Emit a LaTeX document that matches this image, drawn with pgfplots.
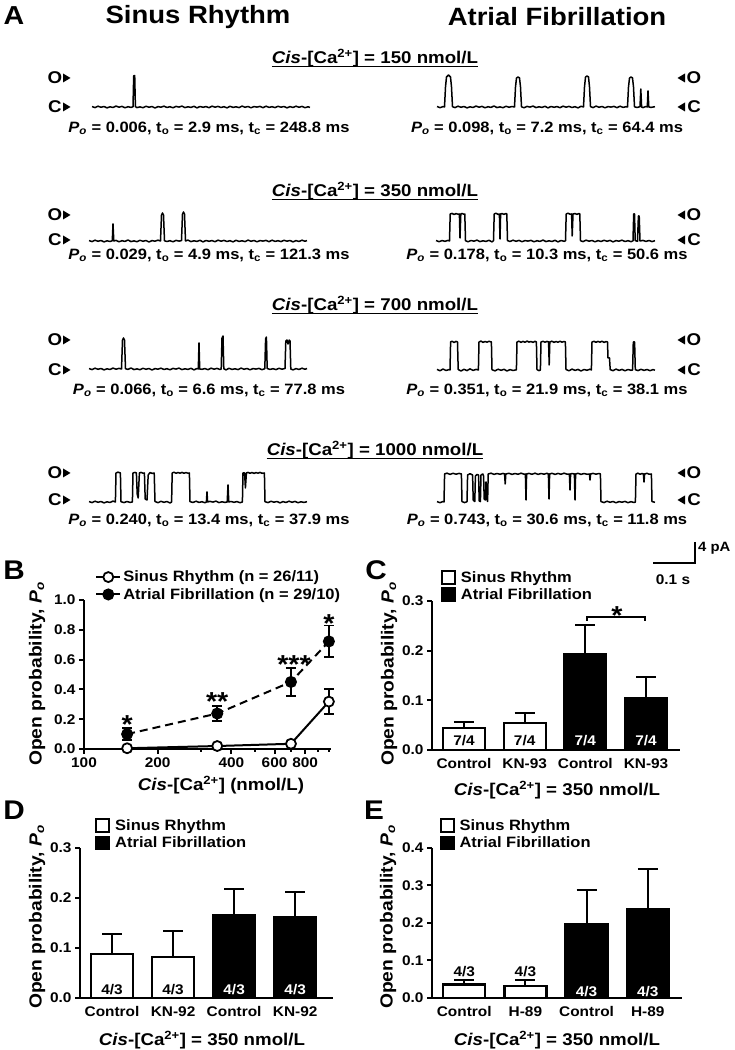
\documentclass[border=0pt]{standalone}
\usepackage{pgfplots}
\pgfplotsset{compat=1.18}
\usepackage{fontspec}
\setmainfont{Liberation Sans}[FakeStretch=1.1]
\newcommand\fs[1]{\fontsize{#1pt}{#1pt}\selectfont}
\newcommand\Po{\textit{P}\textsubscript{\textit{o}}}
\newcommand\tsub[1]{t\textsubscript{#1}}
\newcommand\cis{\textit{Cis}-[Ca\textsuperscript{2+}]}
\pgfplotsset{
  every axis/.append style={
    scale only axis, clip=false, anchor=south west,
    axis lines*=left,
    axis line style={line width=2.2pt, -},
    tick style={line width=2pt, black},
    tick align=outside,
    major tick length=5pt, minor tick length=3pt,
    ticklabel style={font=\fs{14}\bfseries},
    /pgf/number format/assume math mode=true,
  },
  trace/.style={hide axis, height=50pt, ymin=-10, ymax=40},
  tline/.style={black, line width=1.5pt, line join=round},
  yfix/.style={yticklabel style={/pgf/number format/.cd, fixed, fixed zerofill, precision=1}},
  barleg/.style={legend image code/.code={\draw[##1,/tikz/.cd,yshift=-6.5pt,line width=1.8pt] (0pt,0pt) rectangle (13pt,13pt);}},
  barerr/.style={error bars/.cd, y dir=plus, y explicit, error bar style={line width=2pt, black, solid}, error mark options={rotate=90, mark size=10pt, line width=2pt, black}},
  barlegstyle/.style={legend cell align=left, legend style={draw=none, fill=none, font=\fs{15}\bfseries, anchor=north west, row sep=1pt, inner sep=0pt, nodes={inner sep=2pt}, /tikz/every odd column/.append style={column sep=3pt}}},
}
\tikzset{star/.style={anchor=base, yshift=-15pt, font=\fs{26}\bfseries, inner sep=0pt},
  lab/.style={font=\fs{14}\bfseries, inner sep=0pt},
  ylab/.style={font=\fs{17.5}\bfseries, rotate=90}}
\newcommand\lmk[2]{\node[font=\fs{17}\bfseries, inner sep=0pt] at (55,#1) {#2};
  \fill (63,{#1+4.5}) -- (70.5,#1) -- (63,{#1-4.5}) -- cycle;}
\newcommand\rmk[2]{\node[font=\fs{17}\bfseries, inner sep=0pt] at (694,#1) {#2};
  \fill (685,{#1+4.5}) -- (677.5,#1) -- (685,{#1-4.5}) -- cycle;}
\begin{document}
\begin{tikzpicture}[x=1pt,y=1pt]
\path[use as bounding box] (0,0) rectangle (735,1050);
% ---------- Panel A titles
\node[font=\fs{26}\bfseries] at (14,1034) {A};
\node[font=\fs{25}\bfseries] at (198,1033) {Sinus Rhythm};
\node[font=\fs{25}\bfseries] at (557,1033) {Atrial Fibrillation};
% headers
\node[inner sep=0pt, anchor=base, font=\fs{17}\bfseries] (h1) at (375,986) {\cis{} = 150 nmol/L};
\node[inner sep=0pt, anchor=base, font=\fs{17}\bfseries] (h2) at (375,853) {\cis{} = 350 nmol/L};
\node[inner sep=0pt, anchor=base, font=\fs{17}\bfseries] (h3) at (375,739) {\cis{} = 700 nmol/L};
\node[inner sep=0pt, anchor=base, font=\fs{17}\bfseries] (h4) at (375,594) {\cis{} = 1000 nmol/L};
\foreach \h in {h1,h2,h3,h4}{\draw[line width=1.5pt] ([yshift=-2.5pt]\h.base west) -- ([yshift=-2.5pt]\h.base east);}
% markers
\lmk{972}{O}\lmk{943}{C}\rmk{972}{O}\rmk{943}{C}
\lmk{835}{O}\lmk{810}{C}\rmk{835}{O}\rmk{810}{C}
\lmk{710}{O}\lmk{680}{C}\rmk{710}{O}\rmk{680}{C}
\lmk{577}{O}\lmk{550}{C}\rmk{577}{O}\rmk{550}{C}
% Po texts
\node[font=\fs{15}\bfseries] at (209,922) {\Po{} = 0.006, \tsub{o} = 2.9 ms, \tsub{c} = 248.8 ms};
\node[font=\fs{15}\bfseries] at (547,922) {\Po{} = 0.098, \tsub{o} = 7.2 ms, \tsub{c} = 64.4 ms};
\node[font=\fs{15}\bfseries] at (209,795) {\Po{} = 0.029, \tsub{o} = 4.9 ms, \tsub{c} = 121.3 ms};
\node[font=\fs{15}\bfseries] at (547,795) {\Po{} = 0.178, \tsub{o} = 10.3 ms, \tsub{c} = 50.6 ms};
\node[font=\fs{15}\bfseries] at (209,660) {\Po{} = 0.066, \tsub{o} = 6.6 ms, \tsub{c} = 77.8 ms};
\node[font=\fs{15}\bfseries] at (547,660) {\Po{} = 0.351, \tsub{o} = 21.9 ms, \tsub{c} = 38.1 ms};
\node[font=\fs{15}\bfseries] at (209,530) {\Po{} = 0.240, \tsub{o} = 13.4 ms, \tsub{c} = 37.9 ms};
\node[font=\fs{15}\bfseries] at (547,530) {\Po{} = 0.743, \tsub{o} = 30.6 ms, \tsub{c} = 11.8 ms};
% ---------- traces row 1
\begin{axis}[trace, at={(88pt,933pt)}, width=222pt, xmin=88, xmax=310]
\addplot[tline] coordinates {(92,0.4)(95,-0.6)(98,0.8)(101,-0.3)(104,0.5)(107,-0.9)(110,0.2)(113,-0.5)(116,0.9)(119,-0.2)(122,0.6)(125,-0.8)(128,0.3)(131,-0.4)(133,0.2)(133.7,31)(134.7,31.5)(135.4,0.3)(137,-0.6)(140,0.1)(143,-0.7)(146,0.7)(149,-0.3)(152,0.5)(155,-1.0)(158,0.4)(161,-0.2)(164,0.8)(167,-0.5)(170,0.3)(173,-0.8)(176,0.6)(179,-0.1)(182,0.9)(185,-0.6)(188,0.2)(191,-0.4)(194,0.7)(197,-0.9)(200,0.5)(203,-0.3)(206,0.4)(209,-0.7)(212,0.8)(215,-0.2)(218,0.6)(221,-0.5)(224,0.3)(227,-0.9)(230,0.7)(233,-0.4)(236,0.2)(239,-0.6)(242,0.9)(245,-0.3)(248,0.5)(251,-0.8)(254,0.4)(257,-0.1)(260,0.6)(263,-0.7)(266,0.8)(269,-0.4)(272,0.3)(275,-0.6)(278,0.7)(281,-0.2)(284,0.5)(287,-0.9)(290,0.4)(293,-0.5)(296,0.8)(299,-0.3)(302,0.6)(305,-0.7)(308,0.2)(310,-0.4)};
\end{axis}
\begin{axis}[trace, at={(436pt,933pt)}, width=220pt, xmin=436, xmax=656]
\addplot[tline] coordinates {(437,0.5)(440,-0.7)(443,0.4)(444.5,0)(445.5,20)(446.5,30)(448.5,32)(450.5,30)(451.5,20)(452.5,0.3)(455,-0.6)(458,0.8)(461,-0.3)(464,0.5)(467,-0.9)(470,0.2)(473,-0.5)(476,0.9)(479,-0.2)(482,0.6)(485,-0.8)(488,0.3)(491,-0.4)(494,1.0)(497,-0.6)(500,0.1)(503,-0.7)(506,0.7)(509,-0.3)(512,0.5)(514.5,0)(515.5,20)(516.5,29)(518,30)(519.5,29)(520.5,20)(521.5,0.2)(524,-0.8)(527,0.6)(530,-0.1)(533,0.9)(536,-0.6)(539,0.2)(542,-0.4)(545,0.7)(548,-0.9)(551,0.5)(554,-0.3)(557,0.4)(560,-0.7)(563,0.8)(566,-0.2)(569,0.6)(572,-0.5)(575,0.3)(578,-0.9)(581,0.7)(583.5,0)(584.5,20)(585.5,30)(587,31)(588.5,30)(589.5,20)(590.5,0.4)(593,-0.6)(596,0.9)(599,-0.3)(602,0.5)(605,-0.8)(608,0.4)(611,-0.1)(614,0.6)(617,-0.7)(620,0.8)(623,-0.4)(626,0.3)(627.5,0)(628.5,20)(629.5,29)(631,30)(632.5,29)(633.5,20)(634.5,0.2)(637,-0.5)(640,0.3)(640.8,18)(641.6,0)(643,-0.6)(646,0.5)(647.3,0)(648,16)(648.8,0)(651,-0.4)(655,0.3)};
\end{axis}
% ---------- traces row 2
\begin{axis}[trace, at={(88pt,799pt)}, width=222pt, xmin=88, xmax=310]
\addplot[tline] coordinates {(89,0.4)(92,-0.6)(95,0.8)(98,-0.3)(101,0.5)(104,-0.9)(107,0.2)(110,-0.5)(112.3,0.3)(113,17)(113.8,0)(116,0.6)(119,-0.8)(122,0.3)(125,-0.4)(128,1.0)(131,-0.6)(134,0.1)(137,-0.7)(140,0.7)(143,-0.3)(146,0.5)(149,-1.0)(152,0.4)(155,-0.2)(158,0.8)(160.5,0)(161.5,26)(162.5,28)(163.5,26)(164.5,0.2)(167,-0.5)(170,0.3)(173,-0.8)(176,0.6)(179,-0.1)(181.5,0.4)(182.5,27)(183.5,29)(184.5,27)(185.5,0)(188,0.9)(191,-0.6)(194,0.2)(197,-0.4)(200,0.7)(203,-0.9)(206,0.5)(209,-0.3)(212,0.4)(215,-0.7)(218,0.8)(221,-0.2)(224,0.6)(227,-0.5)(230,0.3)(233,-0.9)(236,0.7)(239,-0.4)(242,0.2)(245,-0.6)(248,0.9)(251,-0.3)(254,0.5)(257,-0.8)(260,0.4)(263,-0.1)(266,0.6)(269,-0.7)(272,0.8)(275,-0.4)(278,0.3)(281,-0.6)(284,0.7)(287,-0.2)(290,0.5)(293,-0.9)(296,0.4)(299,-0.5)(302,0.8)(305,-0.3)(307,0.4)};
\end{axis}
\begin{axis}[trace, at={(436pt,799pt)}, width=220pt, xmin=436, xmax=656]
\addplot[tline] coordinates {(436,0.5)(439,-0.7)(442,0.4)(445,-0.3)(448,0.6)(449.5,0)(450.2,27)(452,27.6)(454,26.5)(456,27.4)(458,26.8)(459.4,27)(460,3)(460.8,27)(462,27.5)(464,26.7)(464.8,27)(465.5,0.3)(468,-0.8)(471,0.5)(474,-0.2)(477,0.9)(480,-0.6)(483,0.2)(486,-0.4)(489,0.7)(492,-0.9)(493.5,0.3)(494.2,27)(496,27.8)(498,26.6)(499.4,27)(500,2)(500.6,27)(502,27.4)(504,26.6)(506,27.5)(506.8,27)(507.5,0.4)(510,-0.5)(513,0.8)(516,-0.3)(519,0.6)(522,-0.7)(525,0.4)(528,-0.1)(531,0.6)(534,-0.8)(537,0.3)(540,-0.4)(543,0.9)(546,-0.6)(549,0.2)(552,-0.5)(555,0.7)(558,-0.9)(561,0.5)(564,-0.3)(565.5,0.2)(566.2,27)(568,27.8)(570,26.8)(571.6,27)(572.2,5)(573,27)(575,27.4)(577,26.6)(579,27.5)(579.8,27)(580.5,0.3)(583,-0.6)(586,0.8)(589,-0.2)(592,0.5)(595,-0.8)(598,0.4)(601,-0.5)(604,0.7)(607,-0.3)(610,0.6)(613,-0.9)(616,0.4)(619,-0.2)(622,0.8)(625,-0.5)(628,0.3)(631,-0.7)(633,0.2)(633.7,27)(634.5,27)(635.2,0.4)(637.5,-0.3)(638.4,25)(639.2,25)(640,0)(643,0.6)(646,-0.4)(649,0.5)(652,-0.6)(655,0.3)};
\end{axis}
% ---------- traces row 3
\begin{axis}[trace, at={(88pt,671pt)}, width=222pt, xmin=88, xmax=310]
\addplot[tline] coordinates {(89,0.4)(92,-0.6)(95,0.8)(98,-0.3)(101,0.5)(104,-0.9)(107,0.2)(110,-0.5)(113,0.9)(116,-0.2)(119,0.6)(121.5,0)(122.5,29)(123.5,31)(124.5,29)(125.5,0.3)(128,-0.4)(131,1.0)(134,-0.6)(137,0.1)(140,-0.7)(143,0.7)(146,-0.3)(149,0.5)(152,-1.0)(155,0.4)(158,-0.2)(161,0.8)(164,-0.5)(167,0.3)(170,-0.8)(173,0.6)(176,-0.1)(179,0.9)(182,-0.6)(185,0.2)(188,-0.4)(191,0.7)(194,-0.9)(197,0.5)(198.3,0)(199,26)(199.7,0)(202,-0.3)(205,0.4)(208,-0.7)(211,0.8)(214,-0.2)(217,0.6)(220,-0.5)(221.2,0)(222,31)(223,33)(223.8,0.3)(226,-0.9)(229,0.7)(232,-0.4)(235,0.2)(238,-0.6)(241,0.9)(244,-0.3)(247,0.5)(250,-0.8)(253,0.4)(256,-0.1)(259,0.6)(262,-0.7)(264.8,0.3)(265.6,30)(266.4,32)(267.2,0.5)(270,-0.4)(273,0.3)(276,-0.6)(279,0.7)(282,-0.2)(285,0.5)(285.8,28)(287,29)(288,25)(289.2,29)(290,28)(290.8,0)(293,-0.9)(296,0.4)(299,-0.5)(302,0.8)(305,-0.3)(307,0.5)};
\end{axis}
\begin{axis}[trace, at={(436pt,670pt)}, width=220pt, xmin=436, xmax=656]
\addplot[tline] coordinates {(437,0.6)(440,-0.8)(443,1.0)(446,-0.5)(449,0.4)(450,0)(450.6,28)(452,28.8)(454,27.5)(456,28.6)(457.5,28)(458.2,0.5)(461,-1.0)(464,0.7)(467,-0.6)(470,1.1)(473,-0.4)(476,0.6)(478.4,0)(479,28)(481,28.9)(483,27.6)(485,28.5)(487,27.8)(489,28.7)(491.4,28)(492,0.3)(495,-0.9)(498,0.8)(501,-0.3)(504,0.7)(507,-1.0)(510,0.4)(513,-0.5)(516.4,0.2)(517,28)(519,28.8)(521,27.6)(523,28.6)(525,27.7)(527,28.9)(529,27.9)(531,28.5)(533,27.6)(535,28.7)(536.4,28)(537,0.4)(539,-0.6)(540.4,0)(541,28)(543,28.7)(545,27.8)(547,28.6)(548.6,28)(549.2,5)(549.8,28)(552,28.8)(554,27.6)(556,28.5)(558,27.7)(560,28.8)(562,27.8)(564,28.5)(565.4,28)(566,0.5)(569,-0.8)(572,0.9)(575,-0.4)(578,0.6)(581,-1.0)(584,0.5)(587,-0.3)(590,0.8)(591.4,0)(592,28)(594,28.7)(596,27.7)(598,28.6)(600,27.8)(602,28.8)(604,27.6)(606,28.4)(607.5,28)(608,12)(609.5,12)(610.2,0.4)(613,-0.7)(616,0.9)(619,-0.4)(622,0.6)(625,-0.8)(628,0.5)(631,-0.3)(632.6,0)(633.3,28)(634.6,28)(635.3,0.3)(638,-0.6)(641,0.7)(644,-0.4)(647,0.5)(650,-0.7)(653,0.4)(655,-0.2)};
\end{axis}
% ---------- traces row 4
\begin{axis}[trace, at={(88pt,538pt)}, width=222pt, xmin=88, xmax=310]
\addplot[tline] coordinates {(89,0.4)(92,-0.6)(95,0.8)(98,-0.3)(101,0.5)(104,-0.9)(107,0.2)(110,-0.5)(113,0.9)(115.4,0)(116,29)(118,29.8)(120.4,29)(121,0.3)(124,-0.6)(127,0.5)(130,-0.4)(132.4,0)(133,29)(135,29.6)(136.4,29)(137.2,8)(138.2,4)(139.4,29)(141,29.6)(143,28.8)(144.4,29)(145.2,3)(147,2)(148.2,27)(150,29.5)(152,28.6)(154.2,29)(155,0.5)(158,-0.7)(161,0.7)(164,-0.3)(167,0.5)(170,-1.0)(171.6,0)(172.2,29)(174,29.8)(176,28.7)(178,29.5)(180,28.8)(182,29.6)(184,28.7)(186,29.4)(188,28.8)(189.4,29)(190,0.4)(193,-0.5)(196,0.8)(199,-0.4)(202,0.3)(205,-0.8)(206.4,0)(207,10)(207.6,0)(210,0.6)(213,-0.1)(216,0.9)(219,-0.6)(222,0.2)(225,-0.4)(227.2,0)(228,17)(228.8,0)(231,0.5)(234,-0.3)(237,0.4)(240,-0.7)(242.4,0)(243,29)(244.6,29)(245.4,14)(246.4,29)(248,29.6)(250,28.7)(252,29.5)(254,28.6)(256,29.4)(258,28.8)(260,29.6)(262,28.7)(264.4,29)(265,0.3)(268,-0.6)(271,0.7)(274,-0.2)(277,0.5)(280,-0.9)(283,0.4)(286,-0.5)(289,0.8)(292,-0.3)(295,0.6)(298,-0.7)(301,0.2)(304,-0.4)(307,0.3)};
\end{axis}
\begin{axis}[trace, at={(436pt,538pt)}, width=220pt, xmin=436, xmax=656]
\addplot[tline] coordinates {(437,0.4)(440,-0.7)(443,0.5)(444,0)(444.6,28)(447,28.8)(450,27.6)(453,28.7)(456,27.8)(459,28.6)(461.4,28)(462,0.4)(464.5,-0.6)(467,0.3)(467.6,27)(470,28.3)(472.6,27)(473.2,2)(474.8,0.5)(475.4,26)(477,27.5)(478.6,27)(479.2,1)(480.4,0.4)(481,27)(482.8,28)(483.6,26)(484.2,3)(485.4,2)(486,20)(486.8,4)(487.6,0.5)(488.2,28)(491,28.8)(494,27.6)(497,28.5)(500,27.7)(503,28.6)(504.6,28)(505.2,18)(505.8,28)(509,28.7)(512,27.6)(515,28.5)(518,27.7)(521,28.8)(524,27.8)(525.4,28)(526,2)(526.6,28)(529,28.6)(532,27.7)(535,28.8)(538,27.6)(541,28.5)(544,27.8)(547,28.7)(548.4,28)(549,3)(549.6,28)(552,28.7)(555,27.6)(558,28.6)(561,27.7)(564,28.8)(567,27.8)(569.4,28)(570,12)(570.6,28)(572,28.5)(574.4,28)(575,2)(575.6,28)(578,28.7)(581,27.6)(584,28.5)(587,27.7)(589.4,28)(590,22)(590.6,28)(593,28.6)(596,27.8)(599,28.5)(600.4,28)(601,0.4)(604,-0.6)(607,0.8)(610,-0.3)(613,0.5)(616,-0.8)(619,0.4)(622,-0.2)(625,0.6)(628,-0.7)(631,0.3)(634,-0.5)(635.4,0)(636,28)(638,28.8)(640,27.7)(642,28.5)(643.4,28)(644,20)(644.6,28)(647,28.7)(649,27.8)(651.4,28)(652,0.4)(655,-0.3)};
\end{axis}
% scale bar
\draw[line width=2.5pt] (695,508) -- (695,487) -- (653,487);
\node[font=\fs{13.5}\bfseries, anchor=west, inner sep=0pt] at (698,502) {4 pA};
\node[font=\fs{14}\bfseries, inner sep=0pt] at (673,470) {0.1 s};
% ---------- panel letters
\node[font=\fs{27}\bfseries] at (14,480) {B};
\node[font=\fs{27}\bfseries] at (376,480) {C};
\node[font=\fs{27}\bfseries] at (14,240) {D};
\node[font=\fs{27}\bfseries] at (374,240) {E};
% y labels
\node[ylab] at (37,376) {Open probability, \Po};
\node[ylab] at (389,376) {Open probability, \Po};
\node[ylab] at (37,133) {Open probability, \Po};
\node[ylab] at (388,133) {Open probability, \Po};
% x titles
\node[font=\fs{17}\bfseries] at (221,265) {\cis{} (nmol/L)};
\node[font=\fs{17}\bfseries] at (557,260) {\cis{} = 350 nmol/L};
\node[font=\fs{17}\bfseries] at (202,10) {\cis{} = 350 nmol/L};
\node[font=\fs{17}\bfseries] at (557,10) {\cis{} = 350 nmol/L};
% ---------- Panel B
\begin{axis}[at={(84pt,301pt)}, width=247pt, height=149pt, xmode=log, xmin=100, xmax=1020, ymin=0, ymax=1,
  xtick={100,200,400,600,800}, xticklabels={100,200,400,600,800}, minor xtick={300,500,700,900,1000},
  ytick={0,0.2,0.4,0.6,0.8,1}, yfix,
  legend cell align=left,
  legend style={draw=none, fill=none, font=\fs{15}\bfseries, at={(0.045,1.21)}, anchor=north west, row sep=1pt, inner sep=0pt, nodes={inner sep=2pt}},
  legend image code/.code={\draw[mark repeat=2, mark phase=2, #1, solid] plot coordinates {(0pt,0pt) (12pt,0pt) (24pt,0pt)};}]
\addplot[black, line width=2pt, mark=*, mark size=5pt, mark options={fill=white, draw=black, line width=1.8pt, solid},
  error bars/.cd, y dir=both, y explicit, error bar style={line width=1.8pt, solid}, error mark options={rotate=90, mark size=5pt, line width=1.8pt}]
  coordinates {(150,0.005) +- (0,0.003) (350,0.02) +- (0,0.005) (700,0.035) +- (0,0.006) (1000,0.318) +- (0,0.085)};
\addlegendentry{Sinus Rhythm (n = 26/11)}
\addplot[black, line width=2pt, dash pattern=on 8pt off 5pt, mark=*, mark size=5pt, mark options={fill=black, solid},
  error bars/.cd, y dir=both, y explicit, error bar style={line width=1.8pt, solid}, error mark options={rotate=90, mark size=5pt, line width=1.8pt, solid}]
  coordinates {(150,0.10) +- (0,0.04) (350,0.238) +- (0,0.052) (700,0.45) +- (0,0.093) (1000,0.722) +- (0,0.107)};
\addlegendentry{Atrial Fibrillation (n = 29/10)}
\node[star] at (axis cs:150,0.208) {*};
\node[star] at (axis cs:350,0.36) {**};
\node[star] at (axis cs:720,0.61) {***};
\node[star] at (axis cs:1000,0.885) {*};
\end{axis}
% ---------- Panel C
\begin{axis}[at={(432pt,300pt)}, width=248pt, height=149pt, xmin=0.473, xmax=4.56, ymin=0, ymax=0.3,
  ytick={0,0.1,0.2,0.3}, yfix, xtick={1,2,3,4}, xticklabels={Control,KN-93,Control,KN-93}, xtick style={draw=none},
  barlegstyle, legend style={at={(0.036,1.215)}}]
\addplot[ybar, bar width=42pt, bar shift=0pt, fill=white, draw=black, line width=2.2pt, barleg, barerr]
  coordinates {(1,0.044) += (0,0.013) (2,0.055) += (0,0.019)};
\addlegendentry{Sinus Rhythm}
\addplot[ybar, bar width=42pt, bar shift=0pt, fill=black, draw=black, line width=2.2pt, barleg, barerr]
  coordinates {(3,0.194) += (0,0.057) (4,0.105) += (0,0.042)};
\addlegendentry{Atrial Fibrillation}
\node[lab] at (axis cs:1,0.018) {7/4};
\node[lab] at (axis cs:2,0.018) {7/4};
\node[lab, text=white] at (axis cs:3,0.018) {7/4};
\node[lab, text=white] at (axis cs:4,0.018) {7/4};
\draw[line width=2pt] (axis cs:3.03,0.26) -- (axis cs:3.03,0.268) -- (axis cs:3.98,0.268) -- (axis cs:3.98,0.26);
\node[star] at (axis cs:3.52,0.283) {*};
\end{axis}
% ---------- Panel D
\begin{axis}[at={(80pt,52pt)}, width=253pt, height=150pt, xmin=0.475, xmax=4.62, ymin=0, ymax=0.3,
  ytick={0,0.1,0.2,0.3}, yfix, xtick={1,2,3,4}, xticklabels={Control,KN-92,Control,KN-92}, xtick style={draw=none},
  barlegstyle, legend style={at={(0.06,1.205)}}]
\addplot[ybar, bar width=42pt, bar shift=0pt, fill=white, draw=black, line width=2.2pt, barleg, barerr]
  coordinates {(1,0.088) += (0,0.039) (2,0.082) += (0,0.051)};
\addlegendentry{Sinus Rhythm}
\addplot[ybar, bar width=42pt, bar shift=0pt, fill=black, draw=black, line width=2.2pt, barleg, barerr]
  coordinates {(3,0.166) += (0,0.051) (4,0.161) += (0,0.05)};
\addlegendentry{Atrial Fibrillation}
\node[lab] at (axis cs:1,0.017) {4/3};
\node[lab] at (axis cs:2,0.017) {4/3};
\node[lab, text=white] at (axis cs:3,0.017) {4/3};
\node[lab, text=white] at (axis cs:4,0.017) {4/3};
\end{axis}
% ---------- Panel E
\begin{axis}[at={(432pt,52pt)}, width=250pt, height=150pt, xmin=0.473, xmax=4.56, ymin=0, ymax=0.4,
  ytick={0,0.1,0.2,0.3,0.4}, yfix, xtick={1,2,3,4}, xticklabels={Control,H-89,Control,H-89}, xtick style={draw=none},
  barlegstyle, legend style={at={(0.03,1.205)}}]
\addplot[ybar, bar width=42pt, bar shift=0pt, fill=white, draw=black, line width=2.2pt, barleg, barerr]
  coordinates {(1,0.036) += (0,0.011) (2,0.033) += (0,0.016)};
\addlegendentry{Sinus Rhythm}
\addplot[ybar, bar width=42pt, bar shift=0pt, fill=black, draw=black, line width=2.2pt, barleg, barerr]
  coordinates {(3,0.197) += (0,0.092) (4,0.236) += (0,0.109)};
\addlegendentry{Atrial Fibrillation}
\node[lab] at (axis cs:1,0.071) {4/3};
\node[lab] at (axis cs:2,0.071) {4/3};
\node[lab, text=white] at (axis cs:3,0.017) {4/3};
\node[lab, text=white] at (axis cs:4,0.017) {4/3};
\end{axis}
\end{tikzpicture}
\end{document}
